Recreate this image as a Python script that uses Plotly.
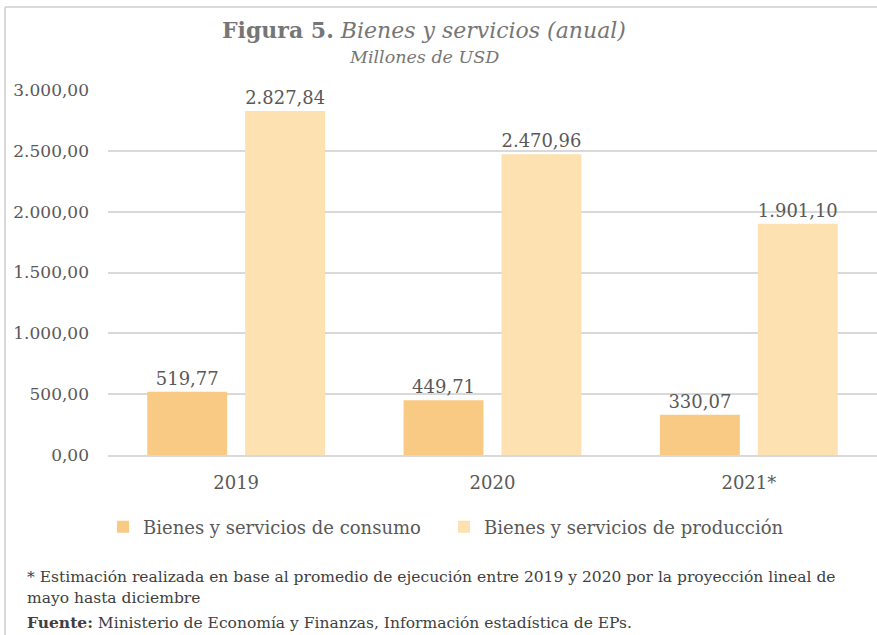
import plotly.graph_objects as go

categories = ["2019", "2020", "2021*"]
consumo = [519.77, 449.71, 330.07]
produccion = [2827.84, 2470.96, 1901.10]
series_names = ["Bienes y servicios de consumo", "Bienes y servicios de producción"]
tick_vals = [0, 500, 1000, 1500, 2000, 2500, 3000]

FONT = "DejaVu Serif"
GRAY = "#595959"

fig = go.Figure()
fig.add_trace(go.Bar(
    x=categories, y=consumo, name=series_names[0],
    marker=dict(color="#F8CA83", line=dict(width=0)),
    texttemplate="%{y:,.2f}", textposition="outside",
    textfont=dict(family=FONT, size=18, color=GRAY), cliponaxis=False,
))
fig.add_trace(go.Bar(
    x=categories, y=produccion, name=series_names[1],
    marker=dict(color="#FDE1B0", line=dict(width=0)),
    texttemplate="%{y:,.2f}", textposition="outside",
    textfont=dict(family=FONT, size=18, color=GRAY), cliponaxis=False,
))

W, H = 877, 635
L, R, T, B = 108, 0, 90, 180
pw, ph = W - L - R, H - T - B

def px(xp):
    return (xp - L) / pw

def py(yp):
    return (H - B - yp) / ph

FOOT = dict(family=FONT, size=15.5, color="#404040")
annotations = [
    dict(text="<b>Figura 5.</b> <i>Bienes y servicios (anual)</i>", x=px(424), y=py(30),
         font=dict(family=FONT, size=22, color="#767676")),
    dict(text="<i>Millones de USD</i>", x=px(424), y=py(57),
         font=dict(family=FONT, size=17.5, color="#767676")),
    dict(text="* Estimación realizada en base al promedio de ejecución entre 2019 y 2020 por la proyección lineal de",
         x=px(25), y=py(577), xanchor="left", font=FOOT),
    dict(text="mayo hasta diciembre", x=px(25), y=py(598), xanchor="left", font=FOOT),
    dict(text="<b>Fuente:</b> Ministerio de Economía y Finanzas, Información estadística de EPs.",
         x=px(25), y=py(622), xanchor="left", font=FOOT),
]
for a in annotations:
    a.update(xref="paper", yref="paper", showarrow=False)
    a.setdefault("xanchor", "center")
    a["yanchor"] = "middle"

shapes = [
    dict(type="line", xref="paper", yref="paper", x0=px(5), x1=px(5), y0=py(7), y1=py(640),
         line=dict(color="#D9D9D9", width=2)),
    dict(type="line", xref="paper", yref="paper", x0=px(5), x1=px(880), y0=py(7), y1=py(7),
         line=dict(color="#D9D9D9", width=2)),
]

fig.update_layout(
    width=W, height=H,
    margin=dict(l=L, r=R, t=T, b=B, autoexpand=False),
    paper_bgcolor="white", plot_bgcolor="white",
    separators=",.",
    barmode="group", bargap=0.236, bargroupgap=0.184,
    font=dict(family=FONT, color=GRAY),
    showlegend=True,
    legend=dict(orientation="h", x=px(103), xanchor="left", y=py(527), yanchor="middle",
                font=dict(family=FONT, size=18, color=GRAY), itemwidth=30,
                entrywidth=296, entrywidthmode="pixels",
                bgcolor="rgba(0,0,0,0)"),
    annotations=annotations,
    shapes=shapes,
    xaxis=dict(showline=True, linecolor="#D9D9D9", linewidth=2, ticks="",
               ticklabelstandoff=10,
               tickfont=dict(family=FONT, size=18, color=GRAY)),
    yaxis=dict(range=[0, 3000], tickvals=tick_vals, tickformat=",.2f",
               showgrid=True, gridcolor="#D9D9D9", gridwidth=1.5, zeroline=False,
               showline=False, ticks="", ticklabelstandoff=18,
               tickfont=dict(family=FONT, size=17, color=GRAY)),
)

fig.write_html("out.html", config={"displayModeBar": False},
               post_script="document.body.style.margin='0';")
